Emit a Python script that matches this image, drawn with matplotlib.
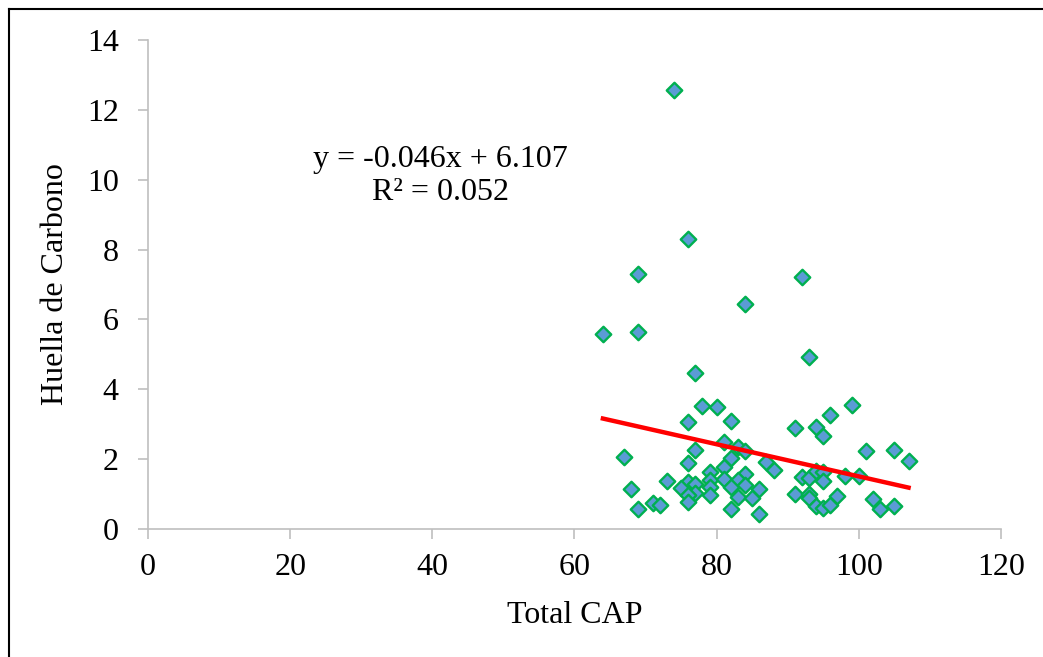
import matplotlib.pyplot as plt
from matplotlib.lines import Line2D
import numpy as np

plt.rcParams['font.family'] = ['Liberation Serif', 'DejaVu Serif']

# Total CAP vs Huella de Carbono
total_cap = [74, 76, 69, 92, 84, 64, 69, 93, 77, 99, 78, 80, 96, 76, 82, 91, 94, 95,
             81, 83, 84, 77, 101, 105, 107, 67, 82, 76, 87, 88, 81, 79, 84, 92, 93, 94,
             95, 95, 98, 100, 73, 79, 81, 83, 76, 75, 77, 79, 82, 84, 68, 86, 77, 76,
             79, 83, 85, 91, 93, 93, 94, 95, 96, 97, 102, 103, 105, 71, 72, 76, 69, 82, 86]
huella = [12.57, 8.30, 7.30, 7.21, 6.44, 5.58, 5.65, 4.93, 4.46, 3.56, 3.52, 3.50, 3.26,
          3.07, 3.09, 2.88, 2.93, 2.66, 2.50, 2.36, 2.24, 2.26, 2.23, 2.26, 1.95, 2.05,
          2.04, 1.90, 1.93, 1.69, 1.78, 1.64, 1.57, 1.48, 1.45, 1.67, 1.64, 1.38, 1.52,
          1.53, 1.38, 1.40, 1.42, 1.40, 1.35, 1.16, 1.29, 1.21, 1.19, 1.25, 1.14, 1.15,
          1.04, 0.97, 0.97, 0.91, 0.90, 0.99, 0.99, 0.88, 0.66, 0.61, 0.69, 0.94, 0.85,
          0.56, 0.66, 0.75, 0.70, 0.77, 0.57, 0.56, 0.43]

# trend line as printed on the chart
slope = -0.046
intercept = 6.107
r2 = 0.052

fig = plt.figure(figsize=(10.43, 6.57), dpi=100)
ax = fig.add_axes([0.1419, 0.1948, 0.8178, 0.7443])

ax.scatter(total_cap, huella, marker='D', s=62, facecolor='#5b9bd5',
           edgecolor='#00b050', linewidth=1.7, zorder=3)

xs = np.array([min(total_cap), max(total_cap)])
ax.plot(xs, slope * xs + intercept, color='#ff0000', linewidth=3.2, zorder=4)

ax.text(41.1, 10.1, "y = %.3fx + %.3f\nR² = %.3f" % (slope, intercept, r2),
        ha='center', va='center', fontsize=23, linespacing=1.2)

ax.set_xlim(0, 120)
ax.set_ylim(0, 14)
ax.set_xticks(range(0, 121, 20))
ax.set_yticks(range(0, 15, 2))
ax.tick_params(axis='both', labelsize=23, length=7, width=1.2, color='#bfbfbf',
               direction='out')
ax.tick_params(axis='y', pad=14)
ax.tick_params(axis='x', pad=10)
for side in ['top', 'right']:
    ax.spines[side].set_visible(False)
for side in ['left', 'bottom']:
    ax.spines[side].set_color('#bfbfbf')
    ax.spines[side].set_linewidth(1.2)

ax.set_xlabel("Total CAP", fontsize=23, labelpad=14)
ax.set_ylabel("Huella de Carbono", fontsize=23, labelpad=12)

# outer frame (cut at right and bottom in the reference)
fig.add_artist(Line2D([9 / 1043, 9 / 1043], [0, 1 - 9 / 657], color='black', linewidth=1.5,
                      transform=fig.transFigure))
fig.add_artist(Line2D([9 / 1043, 1], [1 - 9 / 657, 1 - 9 / 657], color='black', linewidth=1.5,
                      transform=fig.transFigure))

fig.savefig("out.png", dpi=100)
